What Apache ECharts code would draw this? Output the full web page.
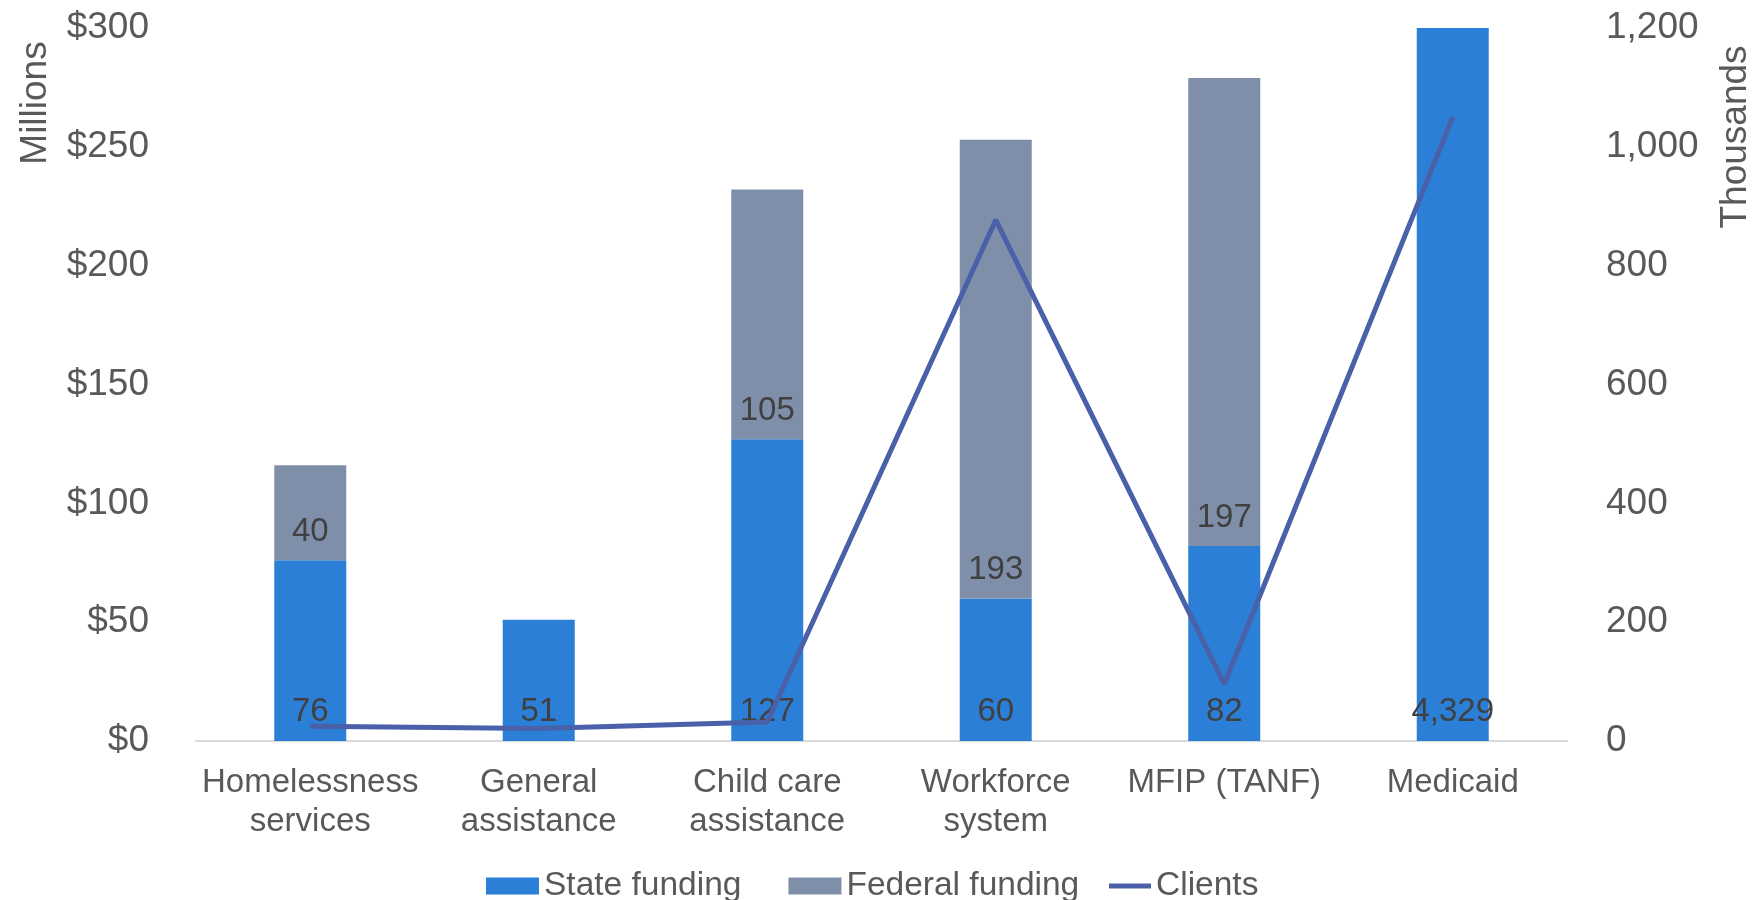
<!DOCTYPE html>
<html lang="en">
<head>
    <meta charset="utf-8"/>
    <title>Funding and clients by program</title>
    <script src="https://cdn.jsdelivr.net/npm/echarts@6/dist/echarts.min.js"></script>
    <style>
        html, body { margin: 0; padding: 0; background: #fff; }
        #main { width: 1758px; height: 900px; }
    </style>
</head>
<body>
<div id="main"></div>
<script>
    // program names (x axis)
    var programs = ['Homelessness\nservices', 'General\nassistance', 'Child care\nassistance',
        'Workforce\nsystem', 'MFIP (TANF)', 'Medicaid'];
    // funding, $ millions
    var stateFunding = [76, 51, 127, 60, 82, 4329];
    var federalFunding = [40, '-', 105, 193, 197, '-'];
    // clients, thousands
    var clients = [25, 21, 32, 877, 96, 1050];

    var textColor = '#595959';
    var font = 'Liberation Sans, Arial, sans-serif';
    var legendText = {fontSize: 33.5, color: textColor, fontFamily: font};

    var chart = echarts.init(document.getElementById('main'));
    var option = {
        textStyle: {fontFamily: font},
        grid: {left: 196, right: 191, top: 28, bottom: 159},
        // two legends so the line key can be thin
        legend: [
            {
                top: 864,
                left: 481,
                icon: 'rect',
                itemWidth: 53,
                itemHeight: 17,
                itemGap: 47,
                textStyle: legendText,
                data: ['State funding', 'Federal funding']
            },
            {
                top: 864,
                left: 1104,
                icon: 'rect',
                itemWidth: 42,
                itemHeight: 5,
                textStyle: legendText,
                data: ['Clients']
            }
        ],
        xAxis: {
            type: 'category',
            data: programs,
            axisLine: {lineStyle: {color: '#d9d9d9', width: 2}},
            axisTick: {show: false},
            axisLabel: {
                fontSize: 33, color: textColor, margin: 22, lineHeight: 39,
                interval: 0, fontFamily: font
            }
        },
        yAxis: [
            {
                type: 'value',
                min: 0, max: 300, interval: 50,
                splitLine: {show: false},
                axisLine: {show: false},
                axisLabel: {
                    formatter: '${value}', fontSize: 37, color: textColor,
                    margin: 47, fontFamily: font
                }
            },
            {
                type: 'value',
                min: 0, max: 1200, interval: 200,
                splitLine: {show: false},
                axisLine: {show: false},
                axisLabel: {fontSize: 37, color: textColor, margin: 39, fontFamily: font}
            }
        ],
        graphic: [
            {
                type: 'text', x: 36, y: 103, rotation: Math.PI / 2,
                style: {
                    text: 'Millions', fontSize: 37, fill: textColor, fontFamily: font,
                    align: 'center', verticalAlign: 'middle'
                }
            },
            {
                type: 'text', x: 1736, y: 137, rotation: Math.PI / 2,
                style: {
                    text: 'Thousands', fontSize: 37, fill: textColor, fontFamily: font,
                    align: 'center', verticalAlign: 'middle'
                }
            }
        ],
        series: [
            {
                name: 'State funding',
                type: 'bar',
                stack: 'funding',
                barWidth: 72,
                clip: true,
                itemStyle: {color: '#2b7fd6'},
                label: {
                    show: true, position: 'insideBottom', distance: 13,
                    fontSize: 33, color: '#404040', fontFamily: font,
                    formatter: function (p) { return echarts.format.addCommas(p.value); }
                },
                data: stateFunding
            },
            {
                name: 'Federal funding',
                type: 'bar',
                stack: 'funding',
                barWidth: 72,
                itemStyle: {color: '#7f8faa'},
                label: {
                    show: true, position: 'insideBottom', distance: 12,
                    fontSize: 33, color: '#404040', fontFamily: font
                },
                data: federalFunding
            },
            {
                name: 'Clients',
                type: 'line',
                yAxisIndex: 1,
                symbol: 'none',
                z: 5,
                lineStyle: {color: '#4a60a9', width: 5},
                itemStyle: {color: '#4a60a9'},
                data: clients
            }
        ]
    };
    chart.setOption(option);
</script>
</body>
</html>
